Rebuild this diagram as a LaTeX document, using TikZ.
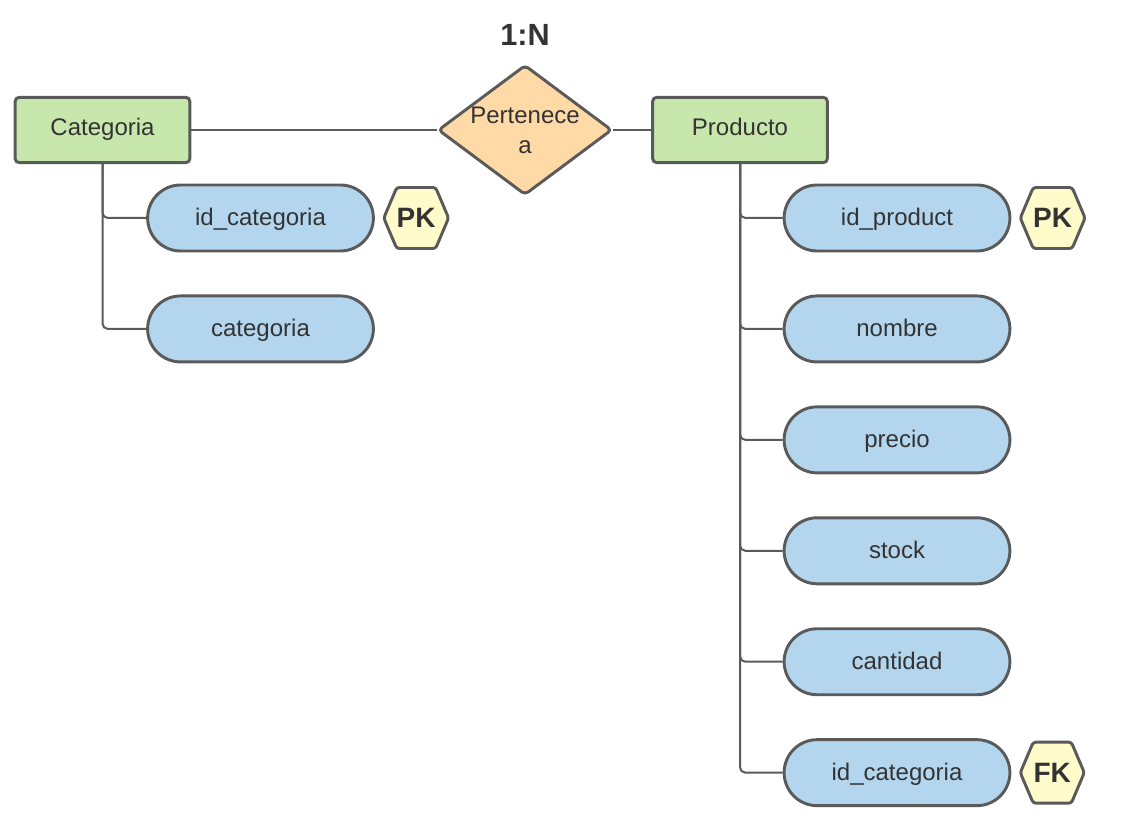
\documentclass[tikz,border=0pt]{standalone}
\usepackage{fontspec}
\setmainfont{Liberation Sans}
\usepackage{tikz}
\usetikzlibrary{positioning, shapes.geometric, shapes.misc, shapes.symbols}
\definecolor{entgreen}{HTML}{C7E7AD}
\definecolor{relorange}{HTML}{FFD9A6}
\definecolor{attrblue}{HTML}{B3D6EE}
\definecolor{keyyellow}{HTML}{FFFBCA}
\definecolor{edgegray}{HTML}{5A5A5A}
\definecolor{textgray}{HTML}{333333}

\begin{document}
\begin{tikzpicture}[
    x=0.75pt, y=0.75pt,
    node distance=31.5pt,
    entity/.style={
        rectangle, rounded corners=3pt,
        draw=edgegray, line width=2.2pt, fill=entgreen,
        minimum width=131pt, minimum height=49pt,
        text height=13pt, text depth=4pt,
        font=\fontsize{18}{21}\selectfont, text=textgray
    },
    relation/.style={
        diamond, aspect=1.34, inner sep=0pt, rounded corners=3pt,
        draw=edgegray, line width=2.2pt, fill=relorange,
        minimum width=130.5pt, minimum height=97.5pt, align=center,
        font=\fontsize{18}{22.5}\selectfont, text=textgray
    },
    attr/.style={
        rounded rectangle,
        draw=edgegray, line width=2.2pt, fill=attrblue,
        minimum width=176pt, minimum height=49.5pt,
        text height=14pt, text depth=3pt,
        font=\fontsize{18}{21}\selectfont, text=textgray
    },
    keytag/.style={
        signal, signal to=west and east, signal pointer angle=134,
        draw=edgegray, line width=2.2pt, fill=keyyellow, rounded corners=2pt,
        inner sep=0pt, minimum width=48pt, minimum height=45.75pt,
        font=\fontsize{21}{24}\selectfont\bfseries, text=textgray
    },
    link/.style={draw=edgegray, line width=1.5pt},
    branch/.style={link, rounded corners=4pt}
]
\useasboundingbox (0,-830) rectangle (1130,0);

% entities and relation
\node[entity] (cat) at (102.5,-130) {Categoria};
\node[relation] (rel) at (525,-130) {Pertenece\\a};
\node[entity] (prod) at (740,-130) {Producto};
\node[font=\fontsize{23}{26}\selectfont\bfseries, text=textgray] (card) at (525,-35) {1:N};

\draw[link] (cat) -- (rel);
\draw[link] (rel) -- (prod);

% Categoria attributes
\node[attr] (catid) at (260.5,-218) {id\_categoria};
\node[attr, below=of catid] (catname) {categoria};
\node[keytag, right=5.5pt of catid] (catpk) {PK};

\draw[branch] (cat.south) |- (catid.west);
\draw[branch] (cat.south) |- (catname.west);

% Producto attributes
\node[attr] (prodid) at (897,-218) {id\_product};
\node[attr, below=of prodid] (prodname) {nombre};
\node[attr, below=of prodname] (prodprice) {precio};
\node[attr, below=of prodprice] (prodstock) {stock};
\node[attr, below=of prodstock] (prodqty) {cantidad};
\node[attr, below=of prodqty] (prodcat) {id\_categoria};
\node[keytag, right=5.5pt of prodid] (prodpk) {PK};
\node[keytag, right=5.5pt of prodcat] (prodfk) {FK};

\draw[branch] (prod.south) |- (prodid.west);
\draw[branch] (prod.south) |- (prodname.west);
\draw[branch] (prod.south) |- (prodprice.west);
\draw[branch] (prod.south) |- (prodstock.west);
\draw[branch] (prod.south) |- (prodqty.west);
\draw[branch] (prod.south) |- (prodcat.west);
\end{tikzpicture}
\end{document}
